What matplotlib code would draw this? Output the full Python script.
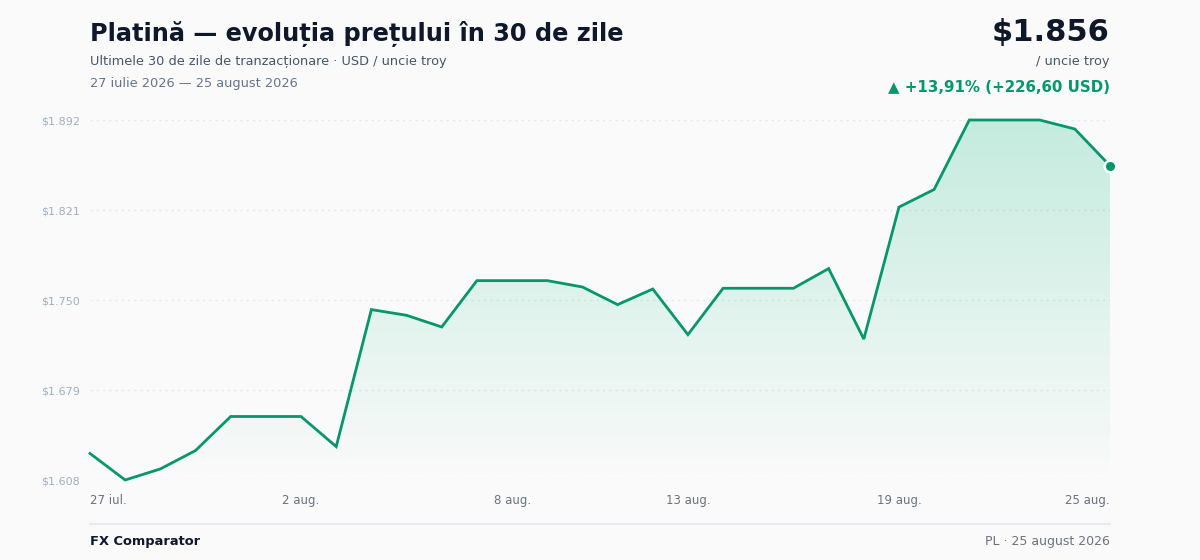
import numpy as np
import matplotlib.pyplot as plt
from matplotlib.colors import LinearSegmentedColormap
from matplotlib.patches import Polygon

# Platinum price, USD / troy ounce, 27 Jul - 25 Aug 2026 (daily)
days = list(range(30))
prices = [1629.4, 1608.5, 1617.2, 1631.7, 1658.5, 1658.5, 1658.5, 1634.8,
          1742.7, 1738.2, 1729.0, 1765.5, 1765.5, 1765.5, 1760.5, 1746.6,
          1758.9, 1723.0, 1759.5, 1759.5, 1759.5, 1775.0, 1719.5, 1823.4,
          1837.3, 1892.0, 1892.0, 1892.0, 1884.9, 1856.0]
tick_idx = [0, 6, 12, 17, 23, 29]
tick_labels = ['27 iul.', '2 aug.', '8 aug.', '13 aug.', '19 aug.', '25 aug.']

BG = '#fafafa'
LINE = '#059669'
FILL = '#10b981'

W, H = 1200, 560
fig = plt.figure(figsize=(W / 100, H / 100), dpi=100, facecolor=BG)

# plot area in pixels: x 90..1110, y 120..480
ax = fig.add_axes([90 / W, (H - 480) / H, 1020 / W, 360 / H])
ax.set_facecolor(BG)

ymin, ymax = min(prices), max(prices)
ax.set_xlim(0, 29)
ax.set_ylim(ymin, ymax)

# gradient fill under the line
grad = np.linspace(0, 1, 256).reshape(-1, 1)
cmap = LinearSegmentedColormap.from_list(
    'g', [(0.063, 0.725, 0.506, 0.0), (0.063, 0.725, 0.506, 0.23)])
im = ax.imshow(grad, extent=[0, 29, ymin, ymax], origin='lower', aspect='auto',
               cmap=cmap, zorder=1)
poly = Polygon(list(zip(days, prices)) + [(29, ymin), (0, ymin)],
               closed=True, transform=ax.transData, facecolor='none', edgecolor='none')
ax.add_patch(poly)
im.set_clip_path(poly)

# grid lines
yticks = np.linspace(ymin, ymax, 5)
for yt in yticks:
    ax.axhline(yt, color='#e2e8f0', lw=1, ls=(0, (1.5, 3)), zorder=0.5)

ax.plot(days, prices, color=LINE, lw=2, zorder=3, clip_on=False,
        solid_joinstyle='miter')
ax.scatter([days[-1]], [prices[-1]], s=70, color=LINE, edgecolor='white',
           linewidth=1.8, zorder=4, clip_on=False)

for s in ax.spines.values():
    s.set_visible(False)
ax.set_yticks(yticks)
ax.set_yticklabels(['$' + f'{v:,.0f}'.replace(',', '.') for v in yticks],
                   fontsize=8, color='#a0aec0')
ax.tick_params(axis='y', length=0, pad=7)
ax.set_xticks(tick_idx)
ax.set_xticklabels(tick_labels, fontsize=8.5, color='#6b7280')
ax.tick_params(axis='x', length=0, pad=10)
xl = ax.get_xticklabels()
xl[0].set_ha('left')
xl[-1].set_ha('right')

# header
fig.text(90 / W, 1 - 34 / H, 'Platină — evoluția prețului în 30 de zile',
         fontsize=17.25, fontweight='bold', color='#0f172a', va='center')
fig.text(90 / W, 1 - 62 / H, 'Ultimele 30 de zile de tranzacționare · USD / uncie troy',
         fontsize=9.25, color='#475569', va='center')
fig.text(90 / W, 1 - 84 / H, '27 iulie 2026 — 25 august 2026',
         fontsize=9.25, color='#64748b', va='center')

fig.text(1110 / W, 1 - 33 / H, '$1.856', fontsize=22, fontweight='bold',
         color='#0f172a', va='center', ha='right')
fig.text(1110 / W, 1 - 62 / H, '/ uncie troy', fontsize=9.25, color='#475569',
         va='center', ha='right')
fig.text(1110 / W, 1 - 87 / H, '▲ +13,91% (+226,60 USD)', fontsize=10.85,
         fontweight='bold', color=LINE, va='center', ha='right')

# footer
fig.add_artist(plt.Line2D([90 / W, 1110 / W], [1 - 524 / H, 1 - 524 / H],
                          color='#e5e7eb', lw=1.2))
fig.text(90 / W, 1 - 542 / H, 'FX Comparator', fontsize=9.35, fontweight='bold',
         color='#0f172a', va='center')
fig.text(1110 / W, 1 - 542 / H, 'PL · 25 august 2026', fontsize=9,
         color='#6b7280', va='center', ha='right')

fig.savefig('out.png', dpi=100, facecolor=BG)
